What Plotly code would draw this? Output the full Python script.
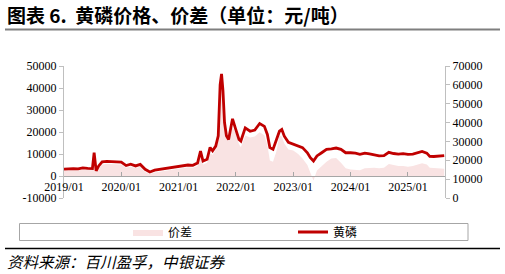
import plotly.graph_objects as go

# ---------------- data ----------------
dates = [
    "2019-01-01", "2019-02-01", "2019-03-01", "2019-04-01", "2019-05-01", "2019-06-01",
    "2019-07-01", "2019-07-12", "2019-07-25", "2019-08-10", "2019-09-01", "2019-10-01",
    "2019-11-01", "2019-12-01",
    "2020-01-01", "2020-02-01", "2020-03-01", "2020-04-01", "2020-05-01", "2020-06-01",
    "2020-07-01", "2020-08-01", "2020-09-01", "2020-10-01", "2020-11-01", "2020-12-01",
    "2021-01-01", "2021-02-01", "2021-03-01", "2021-04-01", "2021-05-01", "2021-05-20",
    "2021-06-05", "2021-07-01", "2021-07-20", "2021-08-05", "2021-08-25", "2021-09-10",
    "2021-09-22", "2021-10-01", "2021-10-10", "2021-10-20", "2021-11-01", "2021-11-15",
    "2021-12-01", "2021-12-10",
    "2022-01-01", "2022-01-20", "2022-02-01", "2022-03-01", "2022-04-01", "2022-05-01",
    "2022-06-01", "2022-07-01", "2022-07-20", "2022-08-05", "2022-08-25", "2022-09-15",
    "2022-10-05", "2022-10-20", "2022-11-05", "2022-12-01",
    "2023-01-01", "2023-02-01", "2023-03-01", "2023-04-01", "2023-04-20", "2023-05-10",
    "2023-06-01", "2023-07-01", "2023-08-01", "2023-09-01", "2023-10-01", "2023-11-01",
    "2023-12-01",
    "2024-01-01", "2024-02-01", "2024-03-01", "2024-04-01", "2024-05-01", "2024-06-01",
    "2024-07-01", "2024-08-01", "2024-09-01", "2024-10-01", "2024-11-01", "2024-12-01",
    "2025-01-01", "2025-02-01", "2025-03-01", "2025-04-01", "2025-05-01", "2025-05-20",
    "2025-06-15", "2025-07-15", "2025-08-20",
]

price = [  # 黄磷 (right axis)
    15300, 15500, 15600, 15400, 16000, 15700,
    15600, 24000, 14400, 17000, 19200, 19400,
    19200, 19100,
    19000, 17200, 17900, 17000, 17800, 15200,
    13800, 14800, 15200, 15500, 15800, 16200,
    16700, 17000, 17500, 17300, 18500, 24900,
    19600, 20500, 26800, 25000, 27500, 33000,
    60000, 65800, 57000, 40000, 33000, 31000,
    38000, 42000,
    36000, 31000, 30200, 37200, 35400, 36000,
    39500, 38000, 33700, 26700, 25800, 30200,
    35400, 36300, 32800, 29500,
    28400, 27500, 26700, 24000, 21400, 19600,
    22300, 24000, 25800, 26100, 26500, 25800,
    24000,
    24000, 23800, 23200, 23800, 23400, 22800,
    22300, 22500, 24200, 23600, 23300, 23500,
    23100, 23300, 23800, 24700, 23800, 22100,
    22000, 22400, 22500,
]

spread = [  # 价差 (left axis)
    2500, 2700, 2800, 2600, 3000, 2700,
    2600, 9000, 1800, 3500, 5200, 5500,
    5400, 5300,
    5200, 3800, 4300, 3500, 4200, 1800,
    900, 1600, 2000, 2300, 2600, 2900,
    3300, 3600, 4000, 3700, 4600, 9000,
    5200, 6000, 10500, 9500, 12000, 16000,
    40000, 44700, 38000, 24000, 18400, 16000,
    20000, 22200,
    19000, 14500, 13100, 18400, 17500, 18000,
    19900, 18500, 14000, 7000, 6500, 11000,
    18400, 18000, 14800, 12000,
    11600, 10000, 8000, 5000, 1500, -2000,
    2500, 4500, 6500, 8000, 8200, 6000,
    3500,
    3000, 2800, 2600, 3500, 3600, 3800,
    3500, 3800, 5500, 5000, 4600, 4600,
    4200, 4500, 5000, 5800, 5200, 3800,
    3600, 3500, 3300,
]

left_ticks = [-10000, 0, 10000, 20000, 30000, 40000, 50000]
left_labels = ["-10000", "0", "10000", "20000", "30000", "40000", "50000"]
right_ticks = [0, 10000, 20000, 30000, 40000, 50000, 60000, 70000]
right_labels = ["0", "10000", "20000", "30000", "40000", "50000", "60000", "70000"]

# ---------------- layout helpers ----------------
W, H = 505, 274
L, R, T, B = 64, 60, 66, 76
PW, PH = W - L - R, H - T - B


def px_x(x):
    return (x - L) / PW


def px_y(y):
    return (H - B - y) / PH


RED = "#C00000"
PINK = "#F9E3E3"
AX = "#BFBFBF"
TICKFONT = dict(family="Liberation Serif, Times New Roman, serif", size=12, color="#000000")
LEGFONT = dict(family="Noto Sans CJK SC", size=12, color="#000")

fig = go.Figure()
fig.add_trace(go.Scatter(
    x=dates, y=spread, name="价差", mode="lines", fill="tozeroy",
    fillcolor=PINK, line=dict(width=0, color=PINK), yaxis="y", legend="legend",
))
fig.add_trace(go.Scatter(
    x=dates, y=price, name="黄磷", mode="lines",
    line=dict(width=2.8, color=RED), yaxis="y2", legend="legend2",
))

fig.update_layout(
    width=W, height=H,
    margin=dict(l=L, r=R, t=T, b=B),
    paper_bgcolor="white", plot_bgcolor="white",
    showlegend=True,
    legend=dict(
        orientation="h", x=px_x(128), y=px_y(232), xanchor="left", yanchor="middle",
        font=LEGFONT, bgcolor="rgba(0,0,0,0)", borderwidth=0,
    ),
    legend2=dict(
        orientation="h", x=px_x(293), y=px_y(232), xanchor="left", yanchor="middle",
        font=LEGFONT, bgcolor="rgba(0,0,0,0)", borderwidth=0,
    ),
    xaxis=dict(
        type="date", range=["2019-01-01", "2025-08-25"],
        tick0="2019-01-01", dtick="M12", tickformat="%Y/%m",
        anchor="free", position=1 / 6,
        showline=True, linecolor="#A6A6A6", linewidth=1,
        ticks="inside", ticklen=4, tickcolor="#A6A6A6",
        showgrid=False, zeroline=False, tickfont=TICKFONT,
    ),
    yaxis=dict(
        range=[-10000, 50000], tickvals=left_ticks, ticktext=left_labels,
        showline=True, linecolor=AX, linewidth=1,
        ticks="outside", ticklen=4, tickcolor=AX,
        showgrid=False, zeroline=False, tickfont=TICKFONT,
    ),
    yaxis2=dict(
        range=[0, 70000], tickvals=right_ticks, ticktext=right_labels,
        overlaying="y", side="right",
        showline=True, linecolor=AX, linewidth=1,
        ticks="outside", ticklen=4, tickcolor=AX,
        showgrid=False, zeroline=False, tickfont=TICKFONT,
    ),
)

shapes = [
    # title underline
    dict(type="line", xref="paper", yref="paper", x0=px_x(5), x1=px_x(500),
         y0=px_y(29.5), y1=px_y(29.5), line=dict(color="#7F7F7F", width=2)),
    # legend box
    dict(type="rect", xref="paper", yref="paper", x0=px_x(19.5), x1=px_x(468),
         y0=px_y(240.5), y1=px_y(223.5), line=dict(color="#A6A6A6", width=1)),
    # source line
    dict(type="line", xref="paper", yref="paper", x0=px_x(5), x1=px_x(500),
         y0=px_y(248.5), y1=px_y(248.5), line=dict(color="#000000", width=1.5)),
]
fig.update_layout(shapes=shapes)

fig.add_annotation(
    text="<b>图表 6.  黄磷价格、价差（单位：元/吨）</b>",
    xref="paper", yref="paper", x=px_x(5), y=px_y(15), xanchor="left", yanchor="middle",
    showarrow=False, font=dict(family="Noto Sans CJK SC", size=19, color="#000"),
)
fig.add_annotation(
    text="<i>资料来源：百川盈孚，中银证券</i>",
    xref="paper", yref="paper", x=px_x(5), y=px_y(261), xanchor="left", yanchor="middle",
    showarrow=False, font=dict(family="Noto Sans CJK SC", size=15.5, color="#000"),
)

fig.write_html("out.html")
